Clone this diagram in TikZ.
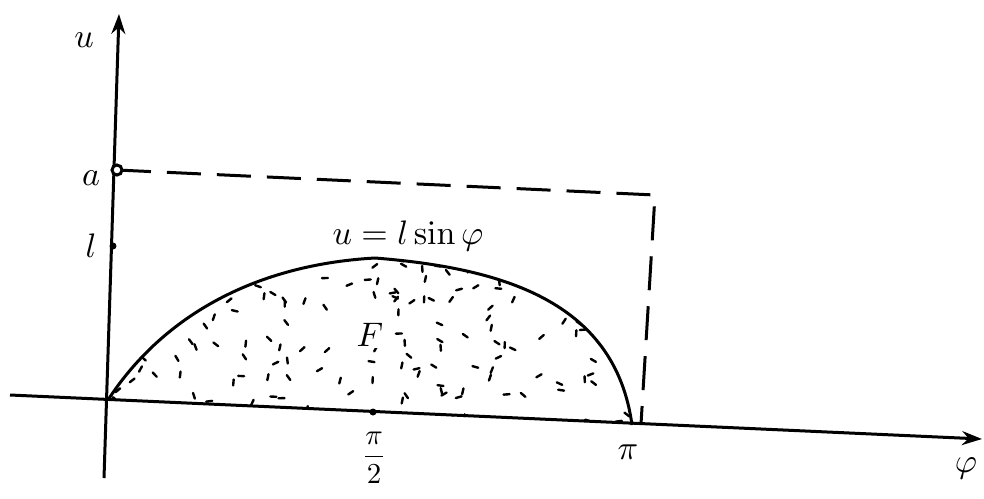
\documentclass[tikz,border=0pt]{standalone}
\usetikzlibrary{arrows.meta}
\begin{document}
\begin{tikzpicture}[x=1pt,y=-1pt,
  axis/.style={line width=3pt,-{Stealth[length=20pt,width=14pt]}},
  frame/.style={line width=3pt,dash pattern=on 34pt off 16pt},
  lbl/.style={scale=3.4},
  speck/.style={line width=2.4pt,line cap=round}]
  \useasboundingbox (0,0) rectangle (984,498);
  \coordinate (xs)  at (10,395);
  \coordinate (xe)  at (982,439);
  \coordinate (ys)  at (104,478);
  \coordinate (ye)  at (119,14);
  \coordinate (O)   at (108,400);
  \coordinate (A)   at (117,170);
  \coordinate (L)   at (113,246);
  \coordinate (top) at (375,258);
  \coordinate (P2)  at (373,412);
  \coordinate (P)   at (632,425);
  \coordinate (C)   at (655,195);
  \coordinate (D)   at (641,424);

  % dotted region F
  \begin{scope}
    \clip (O) .. controls (160,320) and (250,265) .. (top)
              .. controls (500,268) and (615,300) .. (P) -- cycle;
    \pgfmathsetseed{11}
    \foreach \i in {1,...,170} {
      \pgfmathsetmacro\px{110+rnd*520}
      \pgfmathsetmacro\py{260+rnd*165}
      \pgfmathsetmacro\pa{rnd*180}
      \draw[speck] (\px,\py) -- ++(\pa:6);
    }
  \end{scope}

  \draw[axis] (xs) -- (xe);
  \draw[axis] (ys) -- (ye);
  \draw[frame] (A) -- (C) -- (D);
  \draw[line width=3pt] (O) .. controls (160,320) and (250,265) .. (top)
                            .. controls (500,268) and (615,300) .. (P);
  \fill (L) circle (3.5pt);
  \fill (P2) circle (3.5pt);
  \draw[line width=3pt, fill=white] (A) circle (5pt);

  \node[lbl] (ulab)   at (84,40)   {$u$};
  \node[lbl] (philab) at (966,468) {$\varphi$};
  \node[lbl] (alab)   at (91,178)  {$a$};
  \node[lbl] (llab)   at (91,246)  {$l$};
  \node[lbl, scale=0.85] (p2lab) at (374,458) {$\displaystyle\frac{\pi}{2}$};
  \node[lbl] (plab)   at (628,452) {$\pi$};
  \node[lbl, fill=white, inner sep=0.5pt] (flab) at (370,335) {$F$};
  \node[lbl] (curlab) at (408,236) {$u=l\sin\varphi$};
\end{tikzpicture}
\end{document}
